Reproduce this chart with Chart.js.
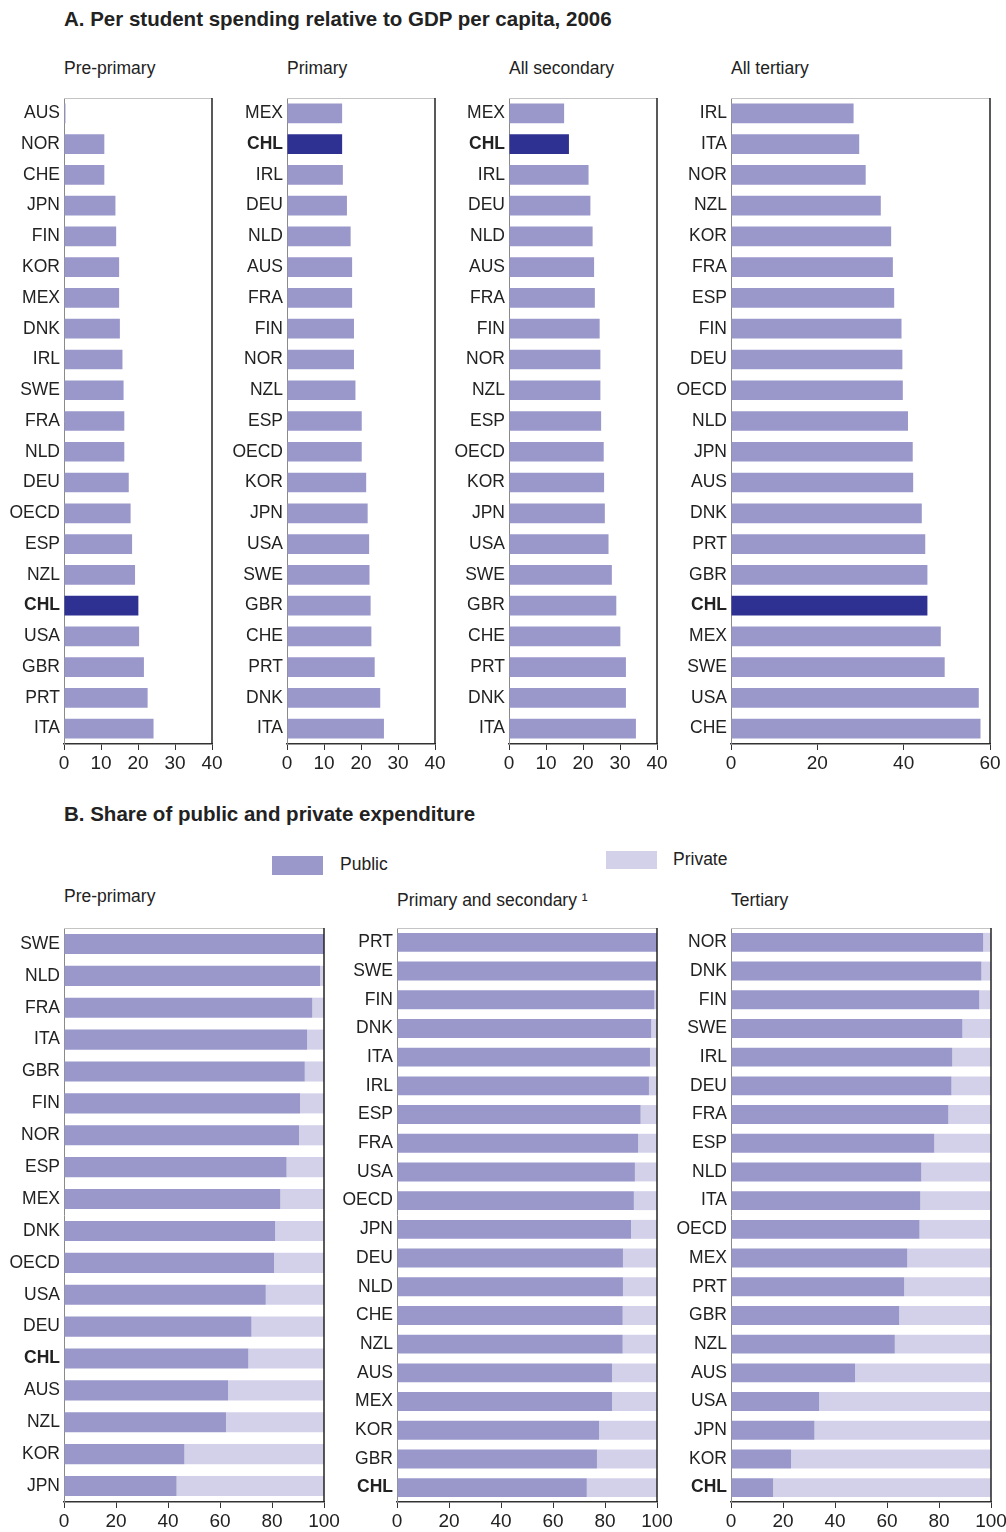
<!DOCTYPE html>
<html>
<head>
<meta charset="utf-8">
<title>Per student spending and share of public and private expenditure</title>
<script src="https://cdn.jsdelivr.net/npm/chart.js@4.4.0/dist/chart.umd.min.js"></script>
<style>
  body { margin: 0; background: #fff; font-family: "Liberation Sans", Arial, sans-serif; color: #222; }
  #page { position: relative; width: 1006px; height: 1532px; overflow: hidden; }
  .t { position: absolute; white-space: nowrap; line-height: 20px; }
  .title { font-weight: bold; font-size: 20.5px; }
  .sub { font-size: 17.5px; }
  .box { position: absolute; }
  canvas { position: absolute; }
</style>
</head>
<body>
<div id="page">
  <div class="t title" style="left:64px; top:9px;">A. Per student spending relative to GDP per capita, 2006</div>
  <div class="t sub" style="left:64px; top:58px;">Pre-primary</div>
  <div class="t sub" style="left:287px; top:58px;">Primary</div>
  <div class="t sub" style="left:509px; top:58px;">All secondary</div>
  <div class="t sub" style="left:731px; top:58px;">All tertiary</div>

  <div class="t title" style="left:64px; top:804px;">B. Share of public and private expenditure</div>
  <div class="box" style="left:272px; top:856px; width:51px; height:19px; background:#9a97ca;"></div>
  <div class="t sub" style="left:340px; top:854px;">Public</div>
  <div class="box" style="left:606px; top:851px; width:51px; height:18px; background:#d3d1e9;"></div>
  <div class="t sub" style="left:673px; top:849px;">Private</div>
  <div class="t sub" style="left:64px; top:886px;">Pre-primary</div>
  <div class="t sub" style="left:397px; top:890px;">Primary and secondary &sup1;</div>
  <div class="t sub" style="left:731px; top:890px;">Tertiary</div>

  <canvas id="aPre"></canvas>
  <canvas id="aPrim"></canvas>
  <canvas id="aSec"></canvas>
  <canvas id="aTer"></canvas>
  <canvas id="bPre"></canvas>
  <canvas id="bPrimSec"></canvas>
  <canvas id="bTer"></canvas>
</div>

<script>
// Panel A: per student spending relative to GDP per capita (%)
const aPreLabels = ['AUS','NOR','CHE','JPN','FIN','KOR','MEX','DNK','IRL','SWE','FRA','NLD','DEU','OECD','ESP','NZL','CHL','USA','GBR','PRT','ITA'];
const aPreValues = [0.4,10.9,10.9,13.9,14.1,14.9,14.9,15.1,15.8,16.1,16.3,16.3,17.5,18.0,18.4,19.2,20.1,20.3,21.6,22.6,24.2];

const aPrimLabels = ['MEX','CHL','IRL','DEU','NLD','AUS','FRA','FIN','NOR','NZL','ESP','OECD','KOR','JPN','USA','SWE','GBR','CHE','PRT','DNK','ITA'];
const aPrimValues = [14.9,14.9,15.1,16.2,17.2,17.6,17.6,18.1,18.1,18.5,20.2,20.2,21.4,21.8,22.2,22.3,22.6,22.8,23.7,25.2,26.2];

const aSecLabels = ['MEX','CHL','IRL','DEU','NLD','AUS','FRA','FIN','NOR','NZL','ESP','OECD','KOR','JPN','USA','SWE','GBR','CHE','PRT','DNK','ITA'];
const aSecValues = [14.9,16.2,21.5,22.0,22.6,23.0,23.2,24.5,24.7,24.7,24.9,25.6,25.7,25.9,26.9,27.8,29.0,30.1,31.6,31.6,34.3];

const aTerLabels = ['IRL','ITA','NOR','NZL','KOR','FRA','ESP','FIN','DEU','OECD','NLD','JPN','AUS','DNK','PRT','GBR','CHL','MEX','SWE','USA','CHE'];
const aTerValues = [28.4,29.7,31.2,34.7,37.1,37.5,37.8,39.5,39.7,39.8,41.0,42.1,42.2,44.2,45.0,45.5,45.5,48.6,49.5,57.4,57.8];

const aTicks = [0, 10, 20, 30, 40];
const aTerTicks = [0, 20, 40, 60];

// Panel B: share of public and private expenditure (%)
const bPreLabels = ['SWE','NLD','FRA','ITA','GBR','FIN','NOR','ESP','MEX','DNK','OECD','USA','DEU','CHL','AUS','NZL','KOR','JPN'];
const bPrePublic = [100,98.5,95.5,93.5,92.6,90.8,90.4,85.6,83.2,81.2,80.8,77.6,72.1,70.9,63.1,62.3,46.3,43.3];
const bPrePrivate = [0,1.5,4.5,6.5,7.4,9.2,9.6,14.4,16.8,18.8,19.2,22.4,27.9,29.1,36.9,37.7,53.7,56.7];

const bPrimSecLabels = ['PRT','SWE','FIN','DNK','ITA','IRL','ESP','FRA','USA','OECD','JPN','DEU','NLD','CHE','NZL','AUS','MEX','KOR','GBR','CHL'];
const bPrimSecPublic = [100,99.9,99.0,97.8,97.3,96.9,93.7,92.7,91.5,91.1,90.0,86.9,86.9,86.8,86.8,82.7,82.7,77.7,76.9,73.0];
const bPrimSecPrivate = [0,0.1,1.0,2.2,2.7,3.1,6.3,7.3,8.5,8.9,10.0,13.1,13.1,13.2,13.2,17.3,17.3,22.3,23.1,27.0];

const bTerLabels = ['NOR','DNK','FIN','SWE','IRL','DEU','FRA','ESP','NLD','ITA','OECD','MEX','PRT','GBR','NZL','AUS','USA','JPN','KOR','CHL'];
const bTerPublic = [97.0,96.3,95.5,89.0,85.1,84.8,83.6,78.2,73.2,72.8,72.5,67.8,66.6,64.7,63.0,47.7,33.9,32.1,23.1,16.2];
const bTerPrivate = [3.0,3.7,4.5,11.0,14.9,15.2,16.4,21.8,26.8,27.2,27.5,32.2,33.4,35.3,37.0,52.3,66.1,67.9,76.9,83.8];

const bTicks = [0, 20, 40, 60, 80, 100];

const PUBLIC = '#9a97ca';
const PRIVATE = '#d3d1e9';
const CHILE = '#2e3192';

Chart.defaults.font.family = '"Liberation Sans", Arial, sans-serif';
Chart.defaults.color = '#222';

// frame round the plot: light grey top, dark right
const framePlugin = {
    id: 'frame',
    afterDraw(chart) {
        const a = chart.chartArea;
        const c = chart.ctx;
        c.save();
        c.strokeStyle = '#c4c4c4';
        c.lineWidth = 1;
        c.beginPath();
        c.moveTo(a.left, a.top + 0.5);
        c.lineTo(a.right, a.top + 0.5);
        c.stroke();
        c.strokeStyle = '#222';
        c.lineWidth = 1.5;
        c.beginPath();
        c.moveTo(a.right, a.top);
        c.lineTo(a.right, a.bottom);
        c.stroke();
        c.restore();
    }
};

function makeChart(id, left, top, plotW, plotH, labels, datasets, tickValues, barPct) {
    const YW = 70, PT = 24, PR = 20, XH = 36;
    const cv = document.getElementById(id);
    const w = YW + plotW + PR;
    const h = PT + plotH + XH;
    cv.width = w;
    cv.height = h;
    cv.style.width = w + 'px';
    cv.style.height = h + 'px';
    cv.style.left = (left - YW) + 'px';
    cv.style.top = (top - PT) + 'px';

    datasets.forEach(function (d) {
        d.barPercentage = barPct;
        d.categoryPercentage = 1;
        d.borderWidth = 0;
    });

    return new Chart(cv.getContext('2d'), {
        type: 'bar',
        data: { labels: labels, datasets: datasets },
        options: {
            indexAxis: 'y',
            responsive: false,
            animation: false,
            layout: { padding: { top: PT, right: PR, left: 0, bottom: 0 } },
            plugins: { legend: { display: false }, tooltip: { enabled: false } },
            scales: {
                x: {
                    stacked: true,
                    min: 0,
                    max: tickValues[tickValues.length - 1],
                    afterBuildTicks: function (scale) {
                        scale.ticks = tickValues.map(function (v) { return { value: v }; });
                    },
                    afterFit: function (scale) { scale.height = XH; },
                    grid: { display: true, drawOnChartArea: false, drawTicks: true, tickLength: 6, color: '#333', lineWidth: 1 },
                    border: { display: true, color: '#333', width: 1.5 },
                    ticks: { font: { size: 19 }, color: '#222', padding: 2, maxRotation: 0, autoSkip: false }
                },
                y: {
                    stacked: true,
                    afterFit: function (scale) { scale.width = YW; },
                    grid: { display: false, drawTicks: false },
                    border: { display: true, color: '#8a8a8a', width: 1 },
                    ticks: {
                        padding: 4,
                        color: '#222',
                        autoSkip: false,
                        font: function (ctx) {
                            const lab = ctx.tick ? ctx.tick.label : '';
                            return { size: 17.5, weight: lab === 'CHL' ? 'bold' : 'normal' };
                        }
                    }
                }
            }
        },
        plugins: [framePlugin]
    });
}

function highlight(labels) {
    return labels.map(function (l) { return l === 'CHL' ? CHILE : PUBLIC; });
}

// Panel A
makeChart('aPre', 64, 98, 148, 646, aPreLabels,
    [{ label: 'Pre-primary', data: aPreValues, backgroundColor: highlight(aPreLabels) }], aTicks, 0.64);
makeChart('aPrim', 287, 98, 148, 646, aPrimLabels,
    [{ label: 'Primary', data: aPrimValues, backgroundColor: highlight(aPrimLabels) }], aTicks, 0.64);
makeChart('aSec', 509, 98, 148, 646, aSecLabels,
    [{ label: 'All secondary', data: aSecValues, backgroundColor: highlight(aSecLabels) }], aTicks, 0.64);
makeChart('aTer', 731, 98, 259, 646, aTerLabels,
    [{ label: 'All tertiary', data: aTerValues, backgroundColor: highlight(aTerLabels) }], aTerTicks, 0.64);

// Panel B
makeChart('bPre', 64, 928, 260, 574, bPreLabels, [
    { label: 'Public', data: bPrePublic, backgroundColor: PUBLIC },
    { label: 'Private', data: bPrePrivate, backgroundColor: PRIVATE }
], bTicks, 0.63);
makeChart('bPrimSec', 397, 928, 260, 574, bPrimSecLabels, [
    { label: 'Public', data: bPrimSecPublic, backgroundColor: PUBLIC },
    { label: 'Private', data: bPrimSecPrivate, backgroundColor: PRIVATE }
], bTicks, 0.66);
makeChart('bTer', 731, 928, 260, 574, bTerLabels, [
    { label: 'Public', data: bTerPublic, backgroundColor: PUBLIC },
    { label: 'Private', data: bTerPrivate, backgroundColor: PRIVATE }
], bTicks, 0.66);
</script>
</body>
</html>
